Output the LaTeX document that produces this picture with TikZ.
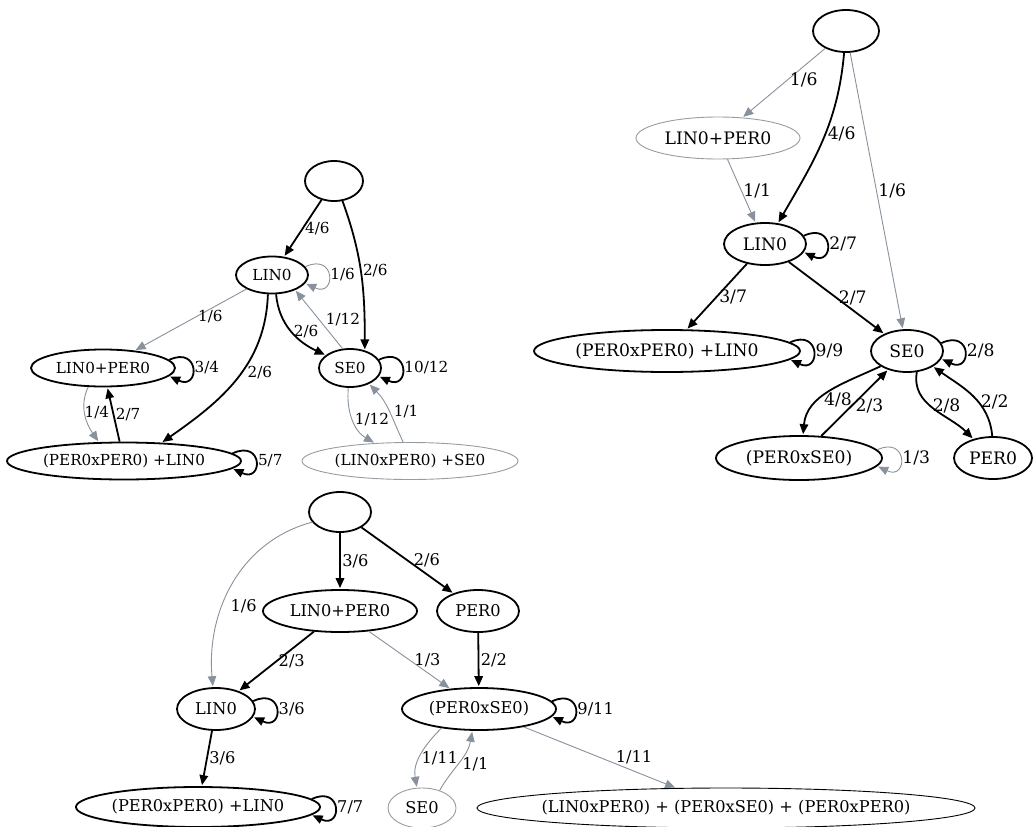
\documentclass[tikz,border=0pt]{standalone}
\usepackage{fontspec}
\setmainfont{DejaVu Serif}
\usetikzlibrary{arrows.meta,shapes.geometric}
\definecolor{edgegray}{RGB}{136,145,156}
\definecolor{nodegray}{RGB}{150,156,162}

\begin{document}
\begin{tikzpicture}[x=1pt,y=1pt,shorten >=1pt,>={Triangle[length=10pt,width=8.5pt]},
    st/.style={ellipse,draw,line width=1.8pt,inner sep=0pt},
    stg/.style={ellipse,draw=nodegray,line width=0.9pt,inner sep=0pt},
    bk/.style={->,line width=1.8pt},
    gy/.style={->,draw=edgegray,line width=0.9pt},
    sl/.style={out=25,in=-25,distance=34pt},
    every node/.style={inner sep=1.5pt}]

  \useasboundingbox (0,0) rectangle (1036,-827);

  % first graph (top left)
  \begin{scope}[font=\fontsize{15.2}{18}\selectfont]
    \node[st, minimum width=58pt,  minimum height=40pt] (ta)  at (334,-181) {};
    \node[st, minimum width=72pt,  minimum height=37pt] (la)  at (272,-275) {LIN0};
    \node[st, minimum width=62pt,  minimum height=38pt] (sa)  at (350,-368) {SE0};
    \node[st, minimum width=144pt, minimum height=37pt] (lpa) at (103,-368) {LIN0+PER0};
    \node[st, minimum width=234pt, minimum height=37pt] (ppa) at (124,-461) {(PER0xPER0) +LIN0};
    \node[stg,minimum width=216pt, minimum height=37pt] (lsa) at (410,-461) {(LIN0xPER0) +SE0};

    \path (ta) edge[bk] node[right] {4/6} (la)
          (ta.-67) edge[bk,out=-70,in=90] node[right,pos=0.47] {2/6} (sa.50)
          (la.14) edge[gy,sl] node[right] {1/6} (la.-14)
          (la) edge[gy] node[right,pos=0.45] {1/6} (lpa)
          (la.-78) edge[bk,out=-85,in=155] node[right] {2/6} (sa.152)
          (la.-102) edge[bk,out=-92,in=35] node[right,pos=0.45,xshift=4pt] {2/6} (ppa.26)
          (sa.111) edge[gy] node[right,xshift=5pt] {1/12} (la.-33)
          (sa.16) edge[bk,sl] node[right] {10/12} (sa.-16)
          (sa.-95) edge[gy,out=-95,in=150] node[right] {1/12} (lsa.153)
          (lsa.110) edge[gy,out=115,in=-45] node[right,xshift=3pt] {1/1} (sa.-40)
          (lpa.7) edge[bk,sl] node[right] {3/4} (lpa.-7)
          (lpa.-128) edge[gy,out=-115,in=125] node[right,pos=0.45,xshift=-2pt] {1/4} (ppa.143)
          (ppa) edge[bk] node[right] {2/7} (lpa)
          (ppa.4) edge[bk,sl] node[right] {5/7} (ppa.-4);
  \end{scope}

  % second graph (top right)
  \begin{scope}[font=\fontsize{17.2}{20}\selectfont]
    \node[st, minimum width=66pt,  minimum height=42pt] (tb)  at (846,-31)  {};
    \node[stg,minimum width=164pt, minimum height=42pt] (lpb) at (718,-138) {LIN0+PER0};
    \node[st, minimum width=82pt,  minimum height=42pt] (lb)  at (765,-244) {LIN0};
    \node[st, minimum width=266pt, minimum height=42pt] (ppb) at (667,-351) {(PER0xPER0) +LIN0};
    \node[st, minimum width=72pt,  minimum height=42pt] (sb)  at (907,-351) {SE0};
    \node[st, minimum width=166pt, minimum height=44pt] (pxb) at (799,-458) {(PER0xSE0)};
    \node[st, minimum width=78pt,  minimum height=42pt] (pb)  at (993,-458) {PER0};

    \path (tb) edge[gy] node[right,pos=0.45] {1/6} (lpb)
          (tb.-95) edge[bk,out=-95,in=60] node[right,pos=0.45] {4/6} (lb.58)
          (tb) edge[gy] node[right] {1/6} (sb)
          (lpb) edge[gy] node[right] {1/1} (lb)
          (lb.12) edge[bk,sl] node[right] {2/7} (lb.-12)
          (lb) edge[bk] node[right] {3/7} (ppb)
          (lb) edge[bk] node[right] {2/7} (sb)
          (ppb.4) edge[bk,sl] node[right] {9/9} (ppb.-4)
          (sb.13) edge[bk,sl] node[right] {2/8} (sb.-13)
          (sb.210) edge[bk,out=205,in=85] node[right,pos=0.62,xshift=2pt] {4/8} (pxb.80)
          (sb.-65) edge[bk,out=-100,in=135] node[right,pos=0.45] {2/8} (pb.136)
          (pxb) edge[bk] node[right,pos=0.45,xshift=2pt] {2/3} (sb)
          (pxb.6) edge[gy,sl] node[right] {1/3} (pxb.-6)
          (pb.92) edge[bk,out=95,in=-35] node[right,pos=0.4] {2/2} (sb.-31);
  \end{scope}

  % third graph (bottom)
  \begin{scope}[font=\fontsize{16.2}{19}\selectfont]
    \node[st, minimum width=62pt,  minimum height=40pt] (tc)   at (340,-512) {};
    \node[st, minimum width=154pt, minimum height=42pt] (lpc)  at (340,-611) {LIN0+PER0};
    \node[st, minimum width=82pt,  minimum height=42pt] (pc)   at (478,-611) {PER0};
    \node[st, minimum width=78pt,  minimum height=42pt] (lc)   at (216,-709) {LIN0};
    \node[st, minimum width=154pt, minimum height=42pt] (pxc)  at (479,-709) {(PER0xSE0)};
    \node[st, minimum width=244pt, minimum height=40pt] (ppc)  at (198,-807) {(PER0xPER0) +LIN0};
    \node[stg,minimum width=68pt,  minimum height=40pt] (sc)   at (422,-808) {SE0};
    \node[ellipse,draw,line width=0.9pt,inner sep=0pt,inner xsep=-12pt,minimum width=498pt,minimum height=40pt]
          (bigc) at (726,-808) {(LIN0xPER0) + (PER0xSE0) + (PER0xPER0)};

    \path (tc.200) edge[gy,out=195,in=95] node[right,pos=0.62,xshift=6pt] {1/6} (lc.98)
          (tc) edge[bk] node[right] {3/6} (lpc)
          (tc) edge[bk] node[right,xshift=4pt] {2/6} (pc)
          (lpc) edge[bk] node[right] {2/3} (lc)
          (lpc) edge[gy] node[right,xshift=3pt] {1/3} (pxc)
          (pc) edge[bk] node[right] {2/2} (pxc)
          (lc.12) edge[bk,sl] node[right] {3/6} (lc.-12)
          (lc) edge[bk] node[right] {3/6} (ppc)
          (ppc.4) edge[bk,sl] node[right] {7/7} (ppc.-4)
          (pxc.6) edge[bk,sl] node[right] {9/11} (pxc.-6)
          (pxc.207) edge[gy,out=-135,in=100] node[right,pos=0.55] {1/11} (sc.104)
          (pxc) edge[gy] node[right,xshift=14pt] {1/11} (bigc)
          (sc.45) edge[gy,out=60,in=-100] node[right,pos=0.45,xshift=3pt] {1/1} (pxc.-107);
  \end{scope}
\end{tikzpicture}
\end{document}
